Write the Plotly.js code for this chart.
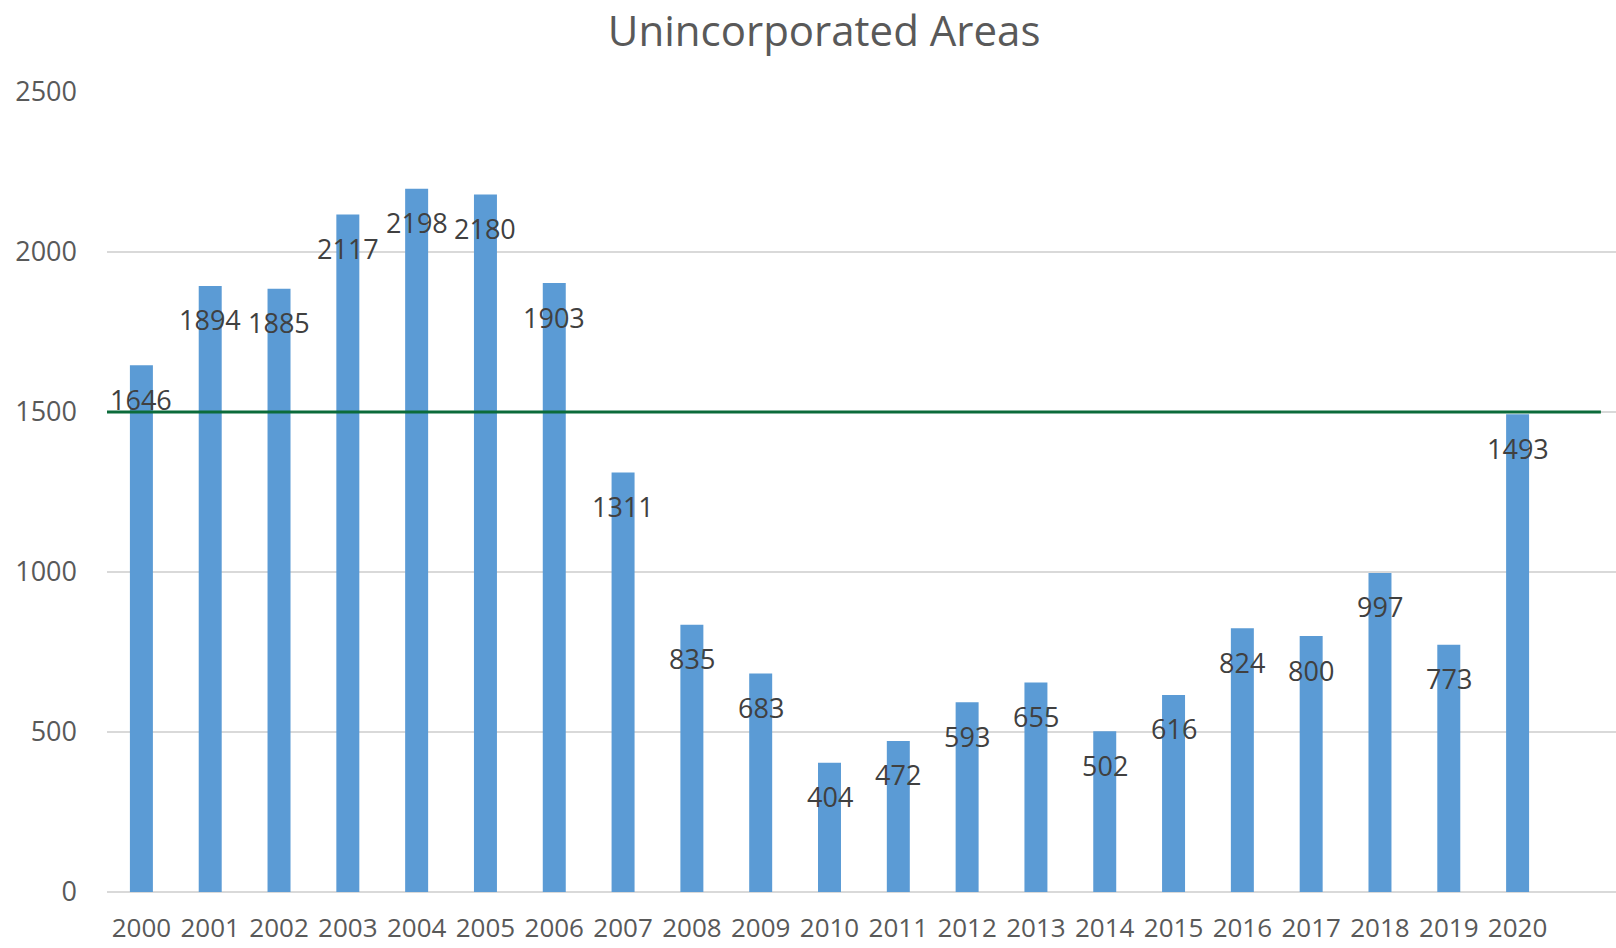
<!DOCTYPE html>
<html>
<head>
<meta charset="utf-8">
<script src="https://cdn.plot.ly/plotly-3.0.1.min.js"></script>
<style>html,body{margin:0;padding:0;background:#fff;}#chart{width:1616px;height:948px;}</style>
</head>
<body>
<div id="chart"></div>
<script>
const years = ["2000","2001","2002","2003","2004","2005","2006","2007","2008","2009","2010","2011","2012","2013","2014","2015","2016","2017","2018","2019","2020"];
const permits = [1646,1894,1885,2117,2198,2180,1903,1311,835,683,404,472,593,655,502,616,824,800,997,773,1493];
const threshold = 1500;
const yTicks = [0,500,1000,1500,2000,2500];

const idx = years.map((_, i) => i);

const bars = {
  type: 'bar',
  x: idx,
  y: permits,
  width: 0.334,
  marker: {color: '#5B9BD5'},
  hoverinfo: 'x+y',
  showlegend: false
};

const labels = idx.map(i => ({
  x: i, y: permits[i], xref: 'x', yref: 'y',
  text: String(permits[i]),
  showarrow: false,
  yanchor: 'middle', xanchor: 'center',
  yshift: -34,
  font: {family: 'Open Sans, Liberation Sans, sans-serif', size: 27, color: '#404040'}
}));

const layout = {
  width: 1616, height: 948,
  paper_bgcolor: '#ffffff', plot_bgcolor: '#ffffff',
  margin: {l: 107, r: 0, t: 92, b: 56, pad: 0},
  title: {
    text: 'Unincorporated Areas',
    font: {family: 'Open Sans, Liberation Sans, sans-serif', size: 42, color: '#595959'},
    x: 0.51, xref: 'container', xanchor: 'center',
    y: 1 - 31/948, yref: 'container', yanchor: 'middle'
  },
  xaxis: {
    tickmode: 'array', tickvals: idx, ticktext: years,
    range: [-0.5, 21.43],
    showgrid: false, zeroline: false, showline: false,
    ticks: '', ticklabelstandoff: 18,
    tickfont: {family: 'Open Sans, Liberation Sans, sans-serif', size: 26, color: '#595959'},
    fixedrange: true
  },
  yaxis: {
    tickmode: 'array', tickvals: yTicks,
    range: [0, 2500],
    showgrid: true, gridcolor: '#d9d9d9', gridwidth: 1.5,
    zeroline: true, zerolinecolor: '#d9d9d9', zerolinewidth: 1.5,
    showline: false, ticks: '', ticklabelstandoff: 29,
    tickfont: {family: 'Open Sans, Liberation Sans, sans-serif', size: 27, color: '#595959'},
    fixedrange: true
  },
  shapes: [{
    type: 'line', xref: 'paper', yref: 'y',
    x0: 0, x1: 0.99, y0: threshold, y1: threshold,
    line: {color: '#0B6B3A', width: 3}
  }],
  annotations: labels
};

Plotly.newPlot('chart', [bars], layout, {displayModeBar: false, staticPlot: true});
</script>
</body>
</html>
